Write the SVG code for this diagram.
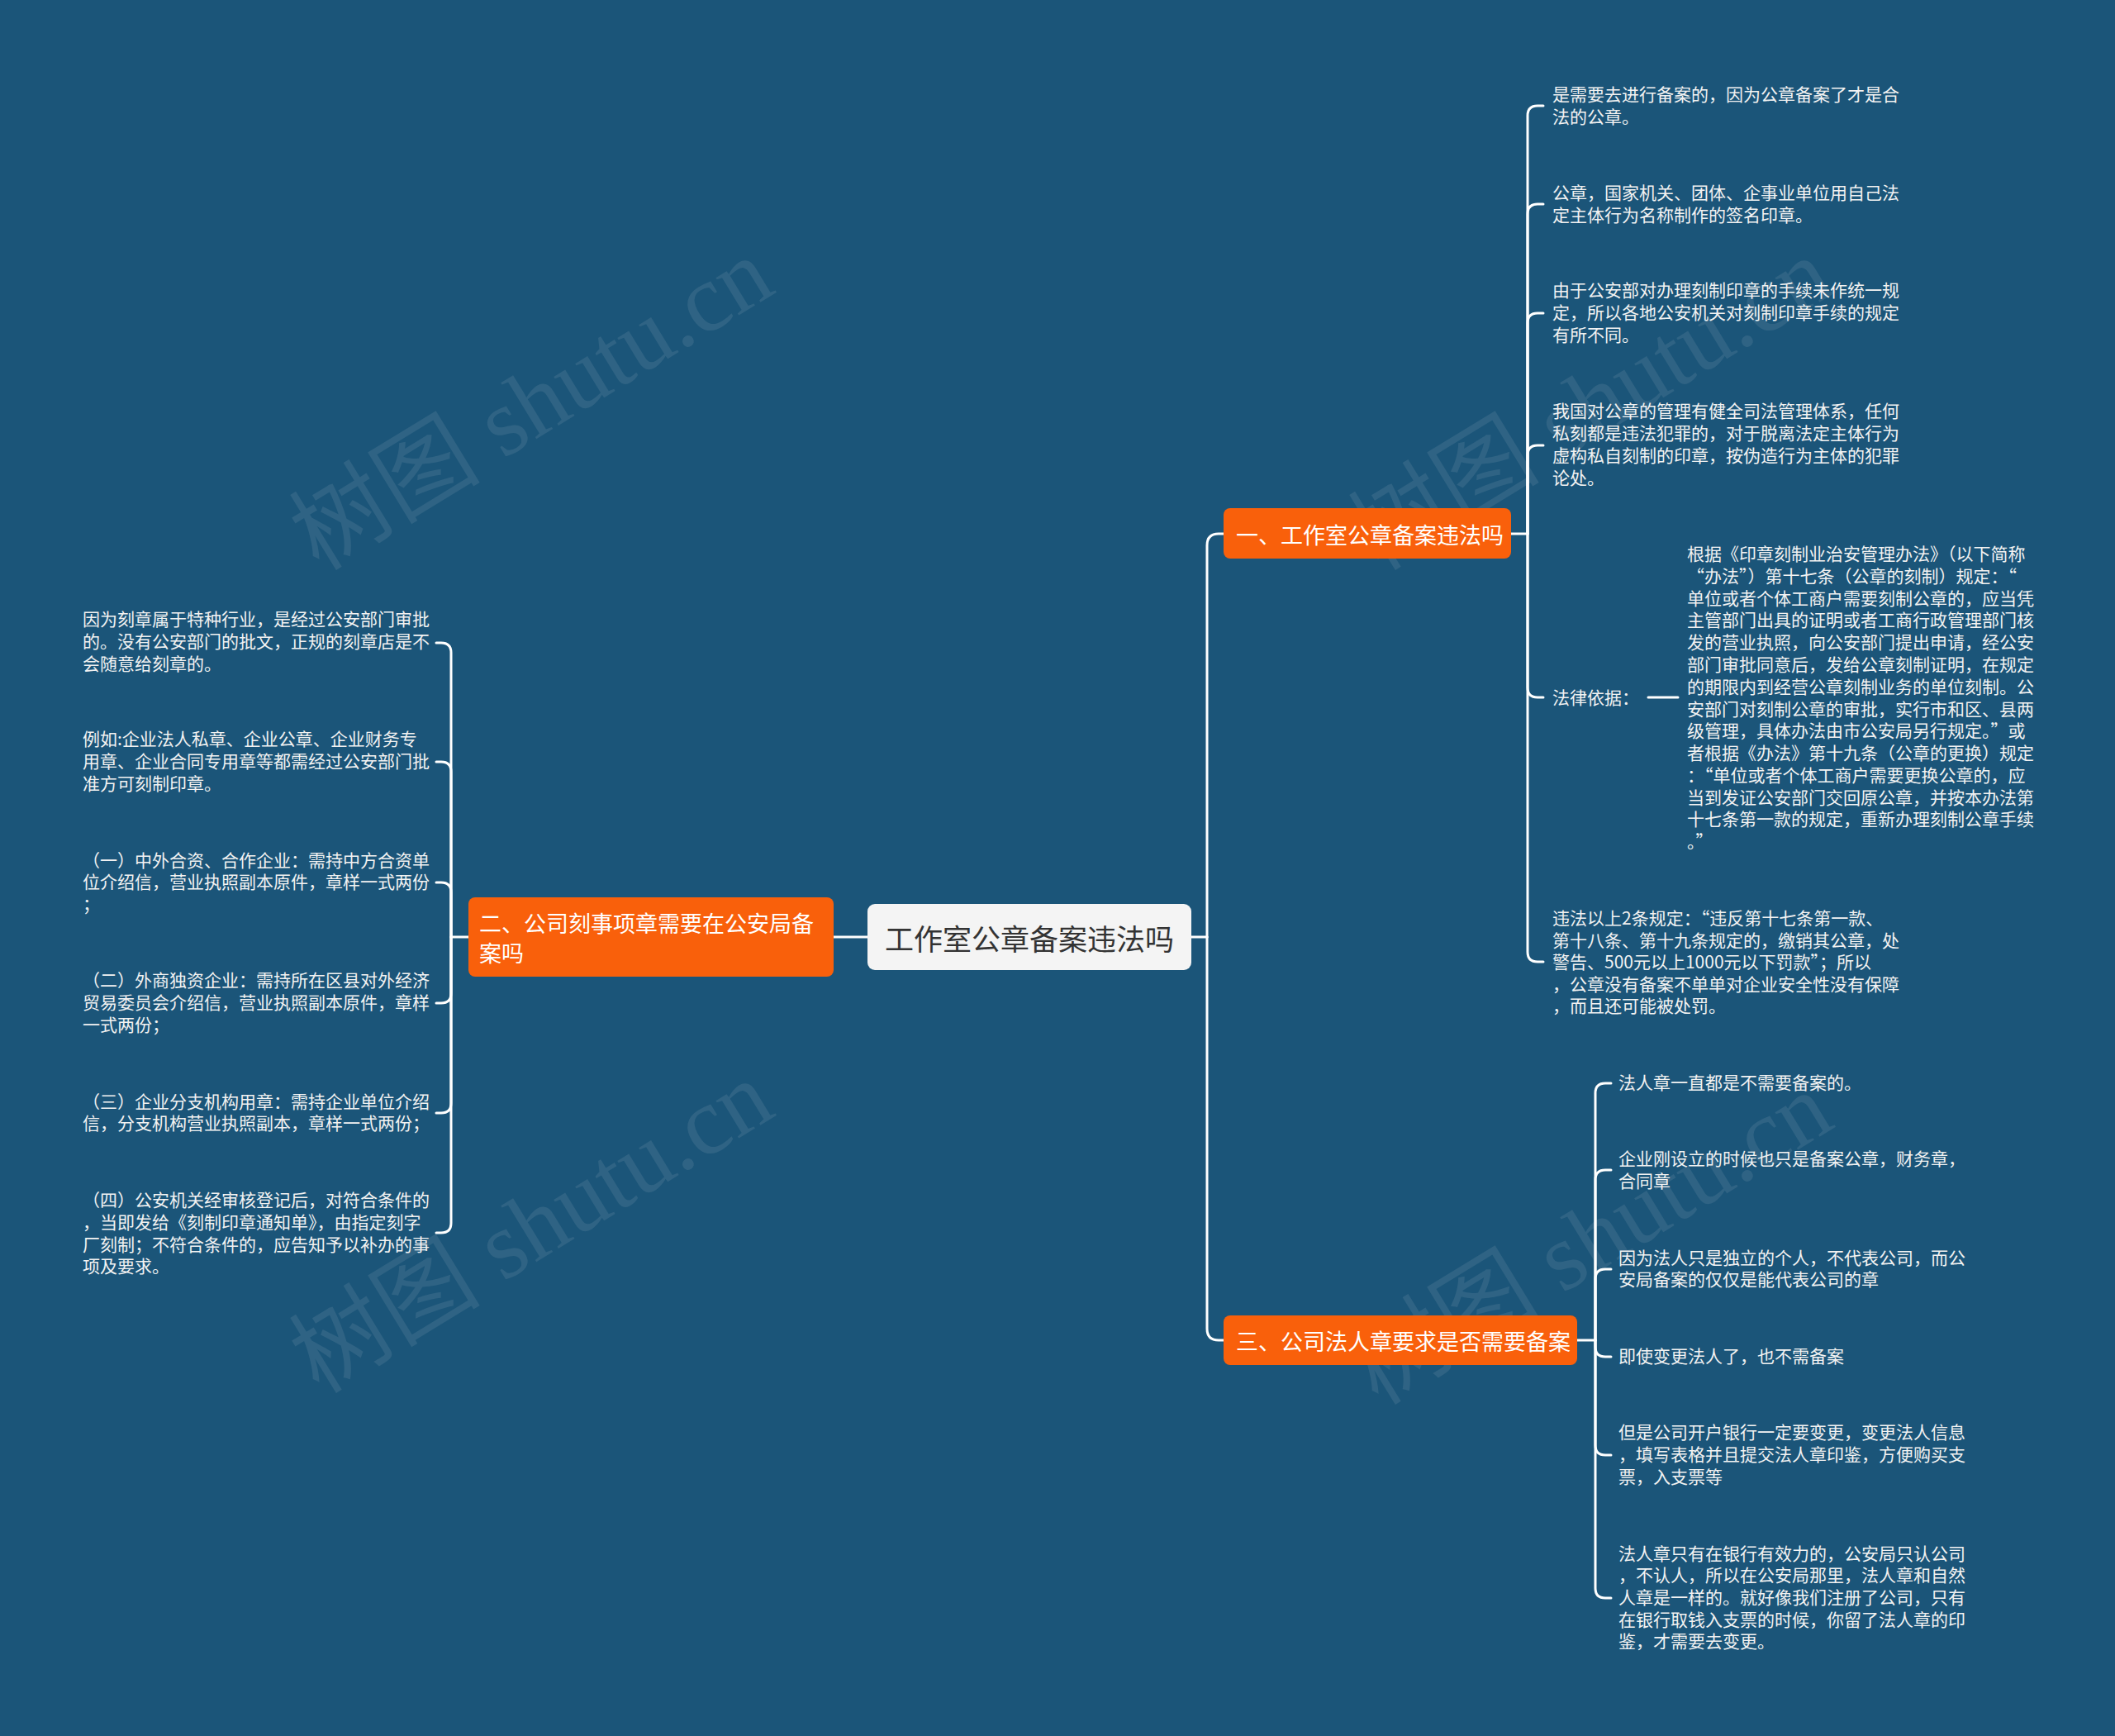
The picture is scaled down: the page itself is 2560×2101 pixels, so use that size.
<svg xmlns="http://www.w3.org/2000/svg" width="2560" height="2101" viewBox="0 0 2560 2101">
<style>
.bg{fill:#1b5579}
.ln{fill:none;stroke:#ffffff;stroke-width:3;stroke-linecap:round}
.lf{font-family:"Noto Sans CJK SC","Noto Sans",sans-serif;font-size:21px;fill:#f2f2f2;dominant-baseline:central;transform:translateY(-2px)}
.br{fill:#f9600b}
.bt{font-family:"Noto Sans CJK SC","Noto Sans",sans-serif;font-size:27px;fill:#ffffff;dominant-baseline:central}
.ct{font-family:"Noto Sans CJK SC","Noto Sans",sans-serif;font-size:35px;fill:#333333;dominant-baseline:central;text-anchor:middle}
.wm{font-family:"Liberation Serif","Noto Sans CJK SC",serif;font-size:116px;fill:#c9d0d6;fill-opacity:0.12}
</style>
<rect class="bg" x="0" y="0" width="2560" height="2101"/>

<g id="watermarks">
<text class="wm" transform="translate(386,692) rotate(-31.4)">树图 shutu.cn</text>
<text class="wm" transform="translate(386,1688) rotate(-31.4)">树图 shutu.cn</text>
<text class="wm" transform="translate(1668,692) rotate(-31.4)">树图 shutu.cn</text>
<text class="wm" transform="translate(1668,1702) rotate(-31.4)">树图 shutu.cn</text>
</g>

<g id="connectors">
<path class="ln" d="M1442,1134 L1461,1134"/>
<path class="ln" d="M1461,1134 L1461,660 Q1461,646 1475,646 L1481,646"/>
<path class="ln" d="M1461,1134 L1461,1608 Q1461,1622 1475,1622 L1481,1622"/>
<path class="ln" d="M1050,1134 L1009,1134"/>
<path class="ln" d="M1829,646 L1849,646"/>
<path class="ln" d="M1849,646 L1849,140 Q1849,128 1861,128 L1868,128"/>
<path class="ln" d="M1849,646 L1849,259 Q1849,247 1861,247 L1868,247"/>
<path class="ln" d="M1849,646 L1849,391 Q1849,379 1861,379 L1868,379"/>
<path class="ln" d="M1849,646 L1849,551 Q1849,539 1861,539 L1868,539"/>
<path class="ln" d="M1849,646 L1849,832 Q1849,844 1861,844 L1868,844"/>
<path class="ln" d="M1849,646 L1849,1152 Q1849,1164 1861,1164 L1868,1164"/>
<path class="ln" d="M1995,844 L2031,844"/>
<path class="ln" d="M1909,1622 L1931,1622"/>
<path class="ln" d="M1931,1622 L1931,1323 Q1931,1311 1943,1311 L1950,1311"/>
<path class="ln" d="M1931,1622 L1931,1428 Q1931,1416 1943,1416 L1950,1416"/>
<path class="ln" d="M1931,1622 L1931,1548 Q1931,1536 1943,1536 L1950,1536"/>
<path class="ln" d="M1931,1622 L1931,1630 Q1931,1642 1943,1642 L1950,1642"/>
<path class="ln" d="M1931,1622 L1931,1749 Q1931,1761 1943,1761 L1950,1761"/>
<path class="ln" d="M1931,1622 L1931,1922 Q1931,1934 1943,1934 L1950,1934"/>
<path class="ln" d="M567,1134 L546,1134"/>
<path class="ln" d="M546,1134 L546,790 Q546,778 534,778 L528,778"/>
<path class="ln" d="M546,1134 L546,934 Q546,922 534,922 L528,922"/>
<path class="ln" d="M546,1134 L546,1080 Q546,1068 534,1068 L528,1068"/>
<path class="ln" d="M546,1134 L546,1202 Q546,1214 534,1214 L528,1214"/>
<path class="ln" d="M546,1134 L546,1335 Q546,1347 534,1347 L528,1347"/>
<path class="ln" d="M546,1134 L546,1480 Q546,1492 534,1492 L528,1492"/>
</g>

<g id="center">
<rect x="1050" y="1094" width="392" height="80" rx="9" fill="#f4f4f4"/>
<text class="ct" x="1246" y="1134">工作室公章备案违法吗</text>
</g>

<g id="branch1">
<rect class="br" x="1481" y="615" width="348" height="61" rx="8"/>
<text class="bt" x="1496" y="646">一、工作室公章备案违法吗</text>
</g>

<g id="branch2">
<rect class="br" x="567" y="1086" width="442" height="96" rx="8"/>
<text class="bt" x="580" y="1116">二、公司刻事项章需要在公安局备</text>
<text class="bt" x="580" y="1152">案吗</text>
</g>

<g id="branch3">
<rect class="br" x="1481" y="1592" width="428" height="60" rx="8"/>
<text class="bt" x="1496" y="1622">三、公司法人章要求是否需要备案</text>
</g>

<g id="b1-leaf1">
<text class="lf" x="1879" y="115">是需要去进行备案的，因为公章备案了才是合</text>
<text class="lf" x="1879" y="142">法的公章。</text>
</g>
<g id="b1-leaf2">
<text class="lf" x="1879" y="234">公章，国家机关、团体、企事业单位用自己法</text>
<text class="lf" x="1879" y="261">定主体行为名称制作的签名印章。</text>
</g>
<g id="b1-leaf3">
<text class="lf" x="1879" y="352">由于公安部对办理刻制印章的手续未作统一规</text>
<text class="lf" x="1879" y="379">定，所以各地公安机关对刻制印章手续的规定</text>
<text class="lf" x="1879" y="406">有所不同。</text>
</g>
<g id="b1-leaf4">
<text class="lf" x="1879" y="498">我国对公章的管理有健全司法管理体系，任何</text>
<text class="lf" x="1879" y="525">私刻都是违法犯罪的，对于脱离法定主体行为</text>
<text class="lf" x="1879" y="552">虚构私自刻制的印章，按伪造行为主体的犯罪</text>
<text class="lf" x="1879" y="579">论处。</text>
</g>
<g id="b1-leaf5">
<text class="lf" x="1879" y="845">法律依据：</text>
</g>
<g id="b1-leaf5-detail">
<text class="lf" x="2042" y="671">根据《印章刻制业治安管理办法》（以下简称</text>
<text class="lf" x="2042" y="698">“办法”）第十七条（公章的刻制）规定：“</text>
<text class="lf" x="2042" y="725">单位或者个体工商户需要刻制公章的，应当凭</text>
<text class="lf" x="2042" y="751">主管部门出具的证明或者工商行政管理部门核</text>
<text class="lf" x="2042" y="778">发的营业执照，向公安部门提出申请，经公安</text>
<text class="lf" x="2042" y="805">部门审批同意后，发给公章刻制证明，在规定</text>
<text class="lf" x="2042" y="832">的期限内到经营公章刻制业务的单位刻制。公</text>
<text class="lf" x="2042" y="859">安部门对刻制公章的审批，实行市和区、县两</text>
<text class="lf" x="2042" y="885">级管理，具体办法由市公安局另行规定。”或</text>
<text class="lf" x="2042" y="912">者根据《办法》第十九条（公章的更换）规定</text>
<text class="lf" x="2042" y="939">：“单位或者个体工商户需要更换公章的，应</text>
<text class="lf" x="2042" y="966">当到发证公安部门交回原公章，并按本办法第</text>
<text class="lf" x="2042" y="992">十七条第一款的规定，重新办理刻制公章手续</text>
<text class="lf" x="2042" y="1019">。”</text>
</g>
<g id="b1-leaf6">
<text class="lf" x="1879" y="1112">违法以上2条规定：“违反第十七条第一款、</text>
<text class="lf" x="1879" y="1139">第十八条、第十九条规定的，缴销其公章，处</text>
<text class="lf" x="1879" y="1165">警告、500元以上1000元以下罚款”；所以</text>
<text class="lf" x="1879" y="1192">，公章没有备案不单单对企业安全性没有保障</text>
<text class="lf" x="1879" y="1218">，而且还可能被处罚。</text>
</g>

<g id="b2-leaf1">
<text class="lf" x="100" y="750">因为刻章属于特种行业，是经过公安部门审批</text>
<text class="lf" x="100" y="777">的。没有公安部门的批文，正规的刻章店是不</text>
<text class="lf" x="100" y="804">会随意给刻章的。</text>
</g>
<g id="b2-leaf2">
<text class="lf" x="100" y="895">例如:企业法人私章、企业公章、企业财务专</text>
<text class="lf" x="100" y="922">用章、企业合同专用章等都需经过公安部门批</text>
<text class="lf" x="100" y="949">准方可刻制印章。</text>
</g>
<g id="b2-leaf3">
<text class="lf" x="100" y="1042">（一）中外合资、合作企业：需持中方合资单</text>
<text class="lf" x="100" y="1068">位介绍信，营业执照副本原件，章样一式两份</text>
<text class="lf" x="100" y="1095">；</text>
</g>
<g id="b2-leaf4">
<text class="lf" x="100" y="1187">（二）外商独资企业：需持所在区县对外经济</text>
<text class="lf" x="100" y="1214">贸易委员会介绍信，营业执照副本原件，章样</text>
<text class="lf" x="100" y="1241">一式两份；</text>
</g>
<g id="b2-leaf5">
<text class="lf" x="100" y="1334">（三）企业分支机构用章：需持企业单位介绍</text>
<text class="lf" x="100" y="1360">信，分支机构营业执照副本，章样一式两份；</text>
</g>
<g id="b2-leaf6">
<text class="lf" x="100" y="1453">（四）公安机关经审核登记后，对符合条件的</text>
<text class="lf" x="100" y="1480">，当即发给《刻制印章通知单》，由指定刻字</text>
<text class="lf" x="100" y="1507">厂刻制；不符合条件的，应告知予以补办的事</text>
<text class="lf" x="100" y="1533">项及要求。</text>
</g>

<g id="b3-leaf1">
<text class="lf" x="1959" y="1311">法人章一直都是不需要备案的。</text>
</g>
<g id="b3-leaf2">
<text class="lf" x="1959" y="1403">企业刚设立的时候也只是备案公章，财务章，</text>
<text class="lf" x="1959" y="1430">合同章</text>
</g>
<g id="b3-leaf3">
<text class="lf" x="1959" y="1523">因为法人只是独立的个人，不代表公司，而公</text>
<text class="lf" x="1959" y="1549">安局备案的仅仅是能代表公司的章</text>
</g>
<g id="b3-leaf4">
<text class="lf" x="1959" y="1642">即使变更法人了，也不需备案</text>
</g>
<g id="b3-leaf5">
<text class="lf" x="1959" y="1734">但是公司开户银行一定要变更，变更法人信息</text>
<text class="lf" x="1959" y="1761">，填写表格并且提交法人章印鉴，方便购买支</text>
<text class="lf" x="1959" y="1788">票，入支票等</text>
</g>
<g id="b3-leaf6">
<text class="lf" x="1959" y="1881">法人章只有在银行有效力的，公安局只认公司</text>
<text class="lf" x="1959" y="1907">，不认人，所以在公安局那里，法人章和自然</text>
<text class="lf" x="1959" y="1934">人章是一样的。就好像我们注册了公司，只有</text>
<text class="lf" x="1959" y="1961">在银行取钱入支票的时候，你留了法人章的印</text>
<text class="lf" x="1959" y="1987">鉴，才需要去变更。</text>
</g>
</svg>
